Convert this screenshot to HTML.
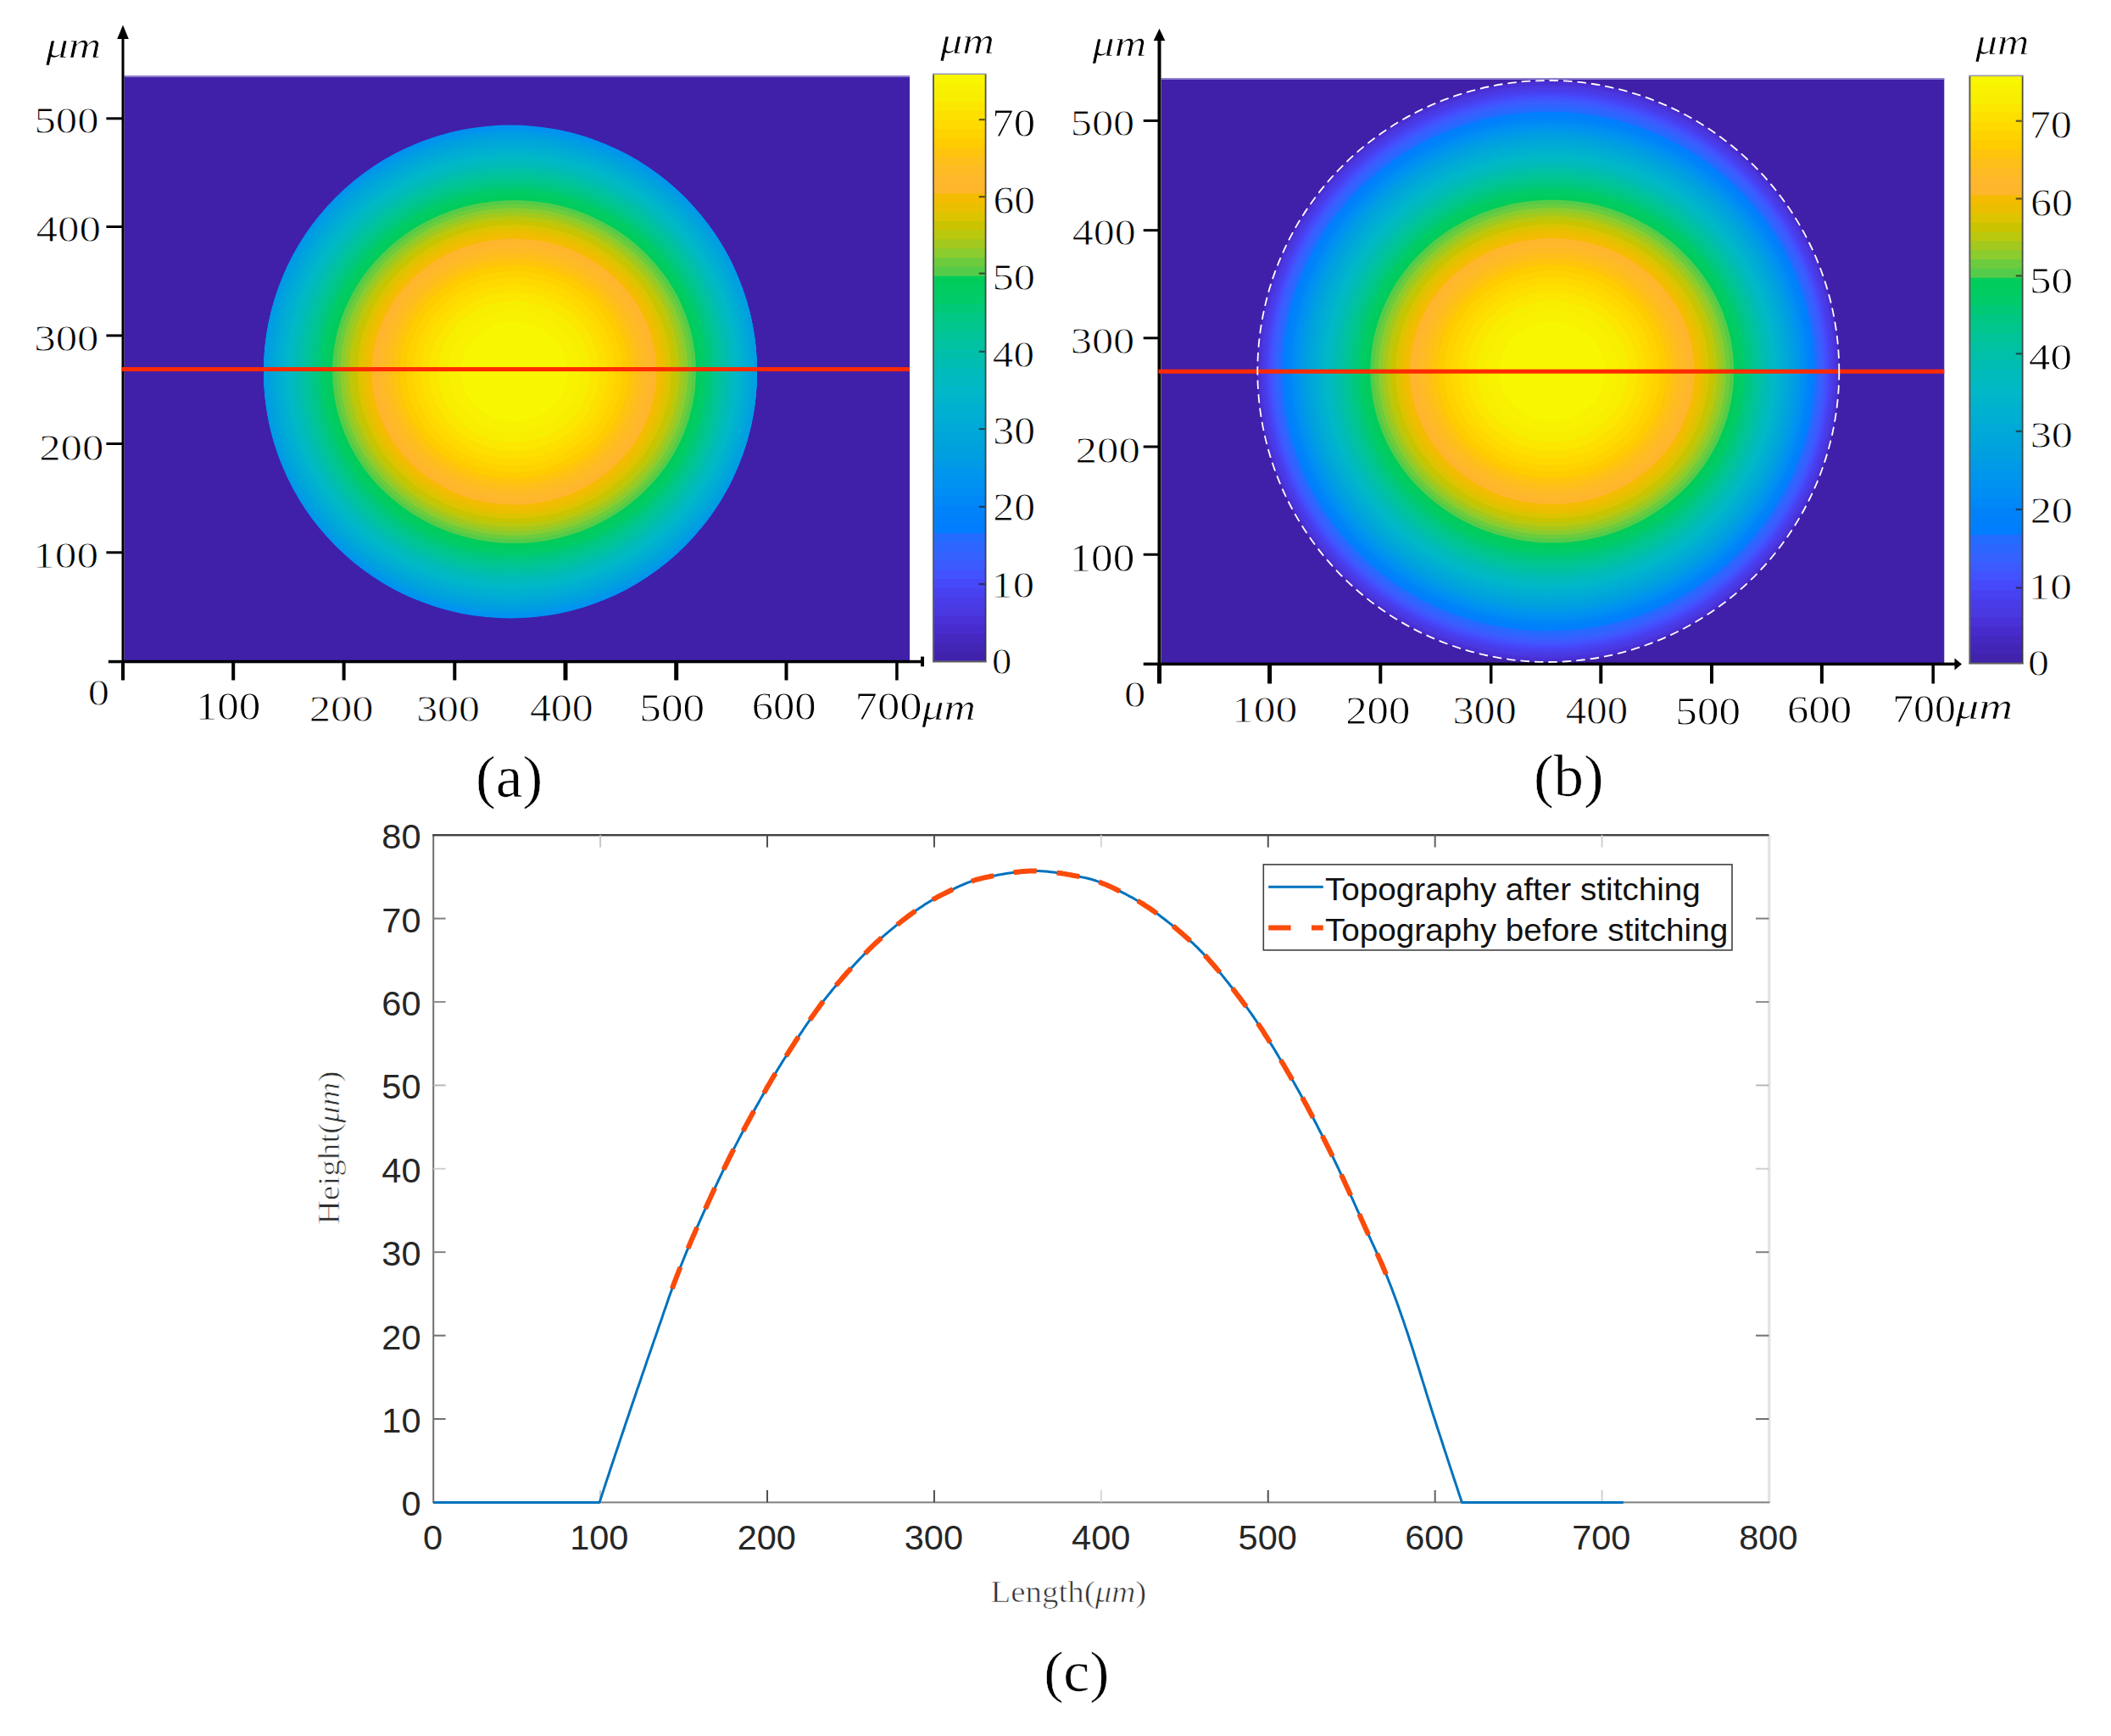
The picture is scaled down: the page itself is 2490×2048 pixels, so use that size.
<!DOCTYPE html>
<html><head><meta charset="utf-8"><title>Figure</title>
<style>html,body{margin:0;padding:0;background:#fff}svg{display:block}</style></head>
<body>
<svg width="2490" height="2048" viewBox="0 0 2490 2048">
<rect width="2490" height="2048" fill="#fff"/>
<defs>
<clipPath id="ca"><circle cx="602" cy="438.5" r="291"/></clipPath>
<clipPath id="cbb"><circle cx="1826.3" cy="438" r="343"/></clipPath>
</defs>
<rect x="146.5" y="89.6" width="926.5" height="690.4" fill="#4020A8"/>
<rect x="146.5" y="89.1" width="926.5" height="2" fill="#8E7ECE"/>
<g clip-path="url(#ca)">
<circle cx="602" cy="438.5" r="293" fill="#008EF5"/>
<ellipse cx="602.9" cy="438.5" rx="299.2" ry="290.3" fill="#0092F1"/>
<ellipse cx="603.1" cy="438.5" rx="296.1" ry="287.0" fill="#0096ED"/>
<ellipse cx="603.2" cy="438.5" rx="293.0" ry="283.7" fill="#009AE7"/>
<ellipse cx="603.3" cy="438.5" rx="289.8" ry="280.4" fill="#009FE1"/>
<ellipse cx="603.5" cy="438.5" rx="286.6" ry="276.9" fill="#00A2DE"/>
<ellipse cx="603.6" cy="438.5" rx="283.3" ry="273.5" fill="#00A6DA"/>
<ellipse cx="603.7" cy="438.5" rx="280.0" ry="270.0" fill="#00A9D7"/>
<ellipse cx="603.9" cy="438.5" rx="276.7" ry="266.5" fill="#00ADD3"/>
<ellipse cx="604.0" cy="438.5" rx="273.2" ry="262.9" fill="#00B0D0"/>
<ellipse cx="604.2" cy="438.5" rx="269.8" ry="259.3" fill="#00B4CC"/>
<ellipse cx="604.3" cy="438.5" rx="266.3" ry="255.6" fill="#00B8C8"/>
<ellipse cx="604.5" cy="438.5" rx="262.7" ry="251.9" fill="#00BAC2"/>
<ellipse cx="604.6" cy="438.5" rx="259.1" ry="248.1" fill="#00BBBB"/>
<ellipse cx="604.8" cy="438.5" rx="255.4" ry="244.2" fill="#00BDB3"/>
<ellipse cx="604.9" cy="438.5" rx="251.6" ry="240.4" fill="#00C0AA"/>
<ellipse cx="605.1" cy="438.5" rx="247.8" ry="236.4" fill="#00C2A0"/>
<ellipse cx="605.3" cy="438.5" rx="243.9" ry="232.4" fill="#00C497"/>
<ellipse cx="605.4" cy="438.5" rx="239.9" ry="228.3" fill="#00C68D"/>
<ellipse cx="605.6" cy="438.5" rx="235.9" ry="224.2" fill="#00C784"/>
<ellipse cx="605.8" cy="438.5" rx="231.8" ry="219.9" fill="#00C977"/>
<ellipse cx="606.0" cy="438.5" rx="227.6" ry="215.6" fill="#00CC69"/>
<ellipse cx="606.1" cy="438.5" rx="223.3" ry="211.3" fill="#00CC62"/>
<ellipse cx="606.3" cy="438.5" rx="218.9" ry="206.8" fill="#00CC5B"/>
<ellipse cx="606.5" cy="438.5" rx="214.4" ry="202.3" fill="#54CC4A"/>
<ellipse cx="606.5" cy="438.5" rx="209.8" ry="197.7" fill="#6CCC3E"/>
<ellipse cx="606.5" cy="438.5" rx="205.1" ry="193.1" fill="#8BCC2E"/>
<ellipse cx="606.5" cy="438.5" rx="200.2" ry="188.4" fill="#A3C81E"/>
<ellipse cx="606.5" cy="438.5" rx="195.2" ry="183.5" fill="#BAC80E"/>
<ellipse cx="606.5" cy="438.5" rx="190.1" ry="178.6" fill="#CAC400"/>
<ellipse cx="606.5" cy="438.5" rx="184.9" ry="173.4" fill="#DDC400"/>
<ellipse cx="606.5" cy="438.5" rx="179.4" ry="168.2" fill="#EABF00"/>
<ellipse cx="606.5" cy="438.5" rx="173.8" ry="162.7" fill="#F4BC00"/>
<ellipse cx="606.5" cy="438.5" rx="168.0" ry="157.1" fill="#FFB52C"/>
<ellipse cx="606.5" cy="438.5" rx="161.9" ry="151.4" fill="#FFB82C"/>
<ellipse cx="606.5" cy="438.5" rx="155.6" ry="145.5" fill="#FFBB24"/>
<ellipse cx="606.5" cy="438.5" rx="149.1" ry="139.3" fill="#FFBF1A"/>
<ellipse cx="606.5" cy="438.5" rx="142.2" ry="132.8" fill="#FFC50D"/>
<ellipse cx="606.5" cy="438.5" rx="134.9" ry="126.0" fill="#FFCC00"/>
<ellipse cx="606.5" cy="438.5" rx="127.2" ry="118.8" fill="#FFD300"/>
<ellipse cx="606.5" cy="438.5" rx="119.0" ry="111.1" fill="#FFD900"/>
<ellipse cx="606.5" cy="438.5" rx="110.1" ry="102.8" fill="#FDE000"/>
<ellipse cx="606.5" cy="438.5" rx="100.4" ry="93.7" fill="#FBE700"/>
<ellipse cx="606.5" cy="438.5" rx="89.7" ry="83.7" fill="#F8EE00"/>
<ellipse cx="606.5" cy="438.5" rx="77.5" ry="72.3" fill="#F8F200"/>
<ellipse cx="606.5" cy="438.5" rx="62.9" ry="58.6" fill="#F8F600"/>
</g>
<rect x="143.5" y="44" width="3" height="738" fill="#000"/>
<path d="M145 29.4 L151.8 46 L138.2 46 Z" fill="#000"/>
<rect x="143.6" y="433.1" width="929.4" height="5" fill="#FF2A00"/>
<rect x="127.8" y="778.8" width="962.2" height="3.5" fill="#000"/>
<rect x="1086" y="774.6" width="4" height="11.7" fill="#000"/>
<rect x="125.4" y="138.3" width="19" height="3" fill="#000"/>
<rect x="125.4" y="266.0" width="19" height="3" fill="#000"/>
<rect x="125.4" y="394.4" width="19" height="3" fill="#000"/>
<rect x="125.4" y="522.0" width="19" height="3" fill="#000"/>
<rect x="125.4" y="650.3" width="19" height="3" fill="#000"/>
<rect x="143.0" y="780" width="4" height="22.5" fill="#000"/>
<rect x="273.2" y="780" width="4" height="22.5" fill="#000"/>
<rect x="403.6" y="780" width="4" height="22.5" fill="#000"/>
<rect x="534.3" y="780" width="4" height="22.5" fill="#000"/>
<rect x="664.5" y="780" width="5" height="22.5" fill="#000"/>
<rect x="795.2" y="780" width="5" height="22.5" fill="#000"/>
<rect x="925.5" y="780" width="4" height="22.5" fill="#000"/>
<rect x="1056.15" y="780" width="3.5" height="22.5" fill="#000"/>
<text x="40.46" y="156.65" font-family='"Liberation Serif", serif' font-size="44.74" textLength="76.07" lengthAdjust="spacingAndGlyphs" fill="#000"  stroke="#fff" stroke-width="0.8" paint-order="fill stroke">500</text>
<text x="42.48" y="285.06" font-family='"Liberation Serif", serif' font-size="44.44" textLength="76.46" lengthAdjust="spacingAndGlyphs" fill="#000"  stroke="#fff" stroke-width="0.8" paint-order="fill stroke">400</text>
<text x="40.31" y="413.56" font-family='"Liberation Serif", serif' font-size="44.44" textLength="76.22" lengthAdjust="spacingAndGlyphs" fill="#000"  stroke="#fff" stroke-width="0.8" paint-order="fill stroke">300</text>
<text x="46.21" y="543.05" font-family='"Liberation Serif", serif' font-size="45.19" textLength="76.22" lengthAdjust="spacingAndGlyphs" fill="#000"  stroke="#fff" stroke-width="0.8" paint-order="fill stroke">200</text>
<text x="39.14" y="669.86" font-family='"Liberation Serif", serif' font-size="44.30" textLength="76.91" lengthAdjust="spacingAndGlyphs" fill="#000"  stroke="#fff" stroke-width="0.8" paint-order="fill stroke">100</text>
<text x="103.68" y="831.56" font-family='"Liberation Serif", serif' font-size="43.70" textLength="25.24" lengthAdjust="spacingAndGlyphs" fill="#000"  stroke="#fff" stroke-width="0.8" paint-order="fill stroke">0</text>
<text x="230.65" y="849.04" font-family='"Liberation Serif", serif' font-size="45.78" textLength="76.80" lengthAdjust="spacingAndGlyphs" fill="#000"  stroke="#fff" stroke-width="0.8" paint-order="fill stroke">100</text>
<text x="364.73" y="851.05" font-family='"Liberation Serif", serif' font-size="45.19" textLength="75.80" lengthAdjust="spacingAndGlyphs" fill="#000"  stroke="#fff" stroke-width="0.8" paint-order="fill stroke">200</text>
<text x="491.16" y="851.05" font-family='"Liberation Serif", serif' font-size="45.19" textLength="74.73" lengthAdjust="spacingAndGlyphs" fill="#000"  stroke="#fff" stroke-width="0.8" paint-order="fill stroke">300</text>
<text x="624.90" y="850.54" font-family='"Liberation Serif", serif' font-size="45.93" textLength="74.90" lengthAdjust="spacingAndGlyphs" fill="#000"  stroke="#fff" stroke-width="0.8" paint-order="fill stroke">400</text>
<text x="754.33" y="850.54" font-family='"Liberation Serif", serif' font-size="45.93" textLength="76.82" lengthAdjust="spacingAndGlyphs" fill="#000"  stroke="#fff" stroke-width="0.8" paint-order="fill stroke">500</text>
<text x="886.67" y="849.04" font-family='"Liberation Serif", serif' font-size="45.78" textLength="76.06" lengthAdjust="spacingAndGlyphs" fill="#000"  stroke="#fff" stroke-width="0.8" paint-order="fill stroke">600</text>
<text x="1008.58" y="848.84" font-family='"Liberation Serif", serif' font-size="45.93" textLength="79.03" lengthAdjust="spacingAndGlyphs" fill="#000"  stroke="#fff" stroke-width="0.8" paint-order="fill stroke">700</text>
<text x="1170.30" y="161.04" font-family='"Liberation Serif", serif' font-size="45.63" textLength="50.73" lengthAdjust="spacingAndGlyphs" fill="#000"  stroke="#fff" stroke-width="0.8" paint-order="fill stroke">70</text>
<text x="1171.63" y="251.54" font-family='"Liberation Serif", serif' font-size="46.07" textLength="49.35" lengthAdjust="spacingAndGlyphs" fill="#000"  stroke="#fff" stroke-width="0.8" paint-order="fill stroke">60</text>
<text x="1170.57" y="341.55" font-family='"Liberation Serif", serif' font-size="44.59" textLength="50.44" lengthAdjust="spacingAndGlyphs" fill="#000"  stroke="#fff" stroke-width="0.8" paint-order="fill stroke">50</text>
<text x="1170.82" y="432.75" font-family='"Liberation Serif", serif' font-size="44.74" textLength="49.15" lengthAdjust="spacingAndGlyphs" fill="#000"  stroke="#fff" stroke-width="0.8" paint-order="fill stroke">40</text>
<text x="1171.37" y="523.54" font-family='"Liberation Serif", serif' font-size="45.93" textLength="49.62" lengthAdjust="spacingAndGlyphs" fill="#000"  stroke="#fff" stroke-width="0.8" paint-order="fill stroke">30</text>
<text x="1171.37" y="613.54" font-family='"Liberation Serif", serif' font-size="45.93" textLength="49.62" lengthAdjust="spacingAndGlyphs" fill="#000"  stroke="#fff" stroke-width="0.8" paint-order="fill stroke">20</text>
<text x="1169.29" y="704.56" font-family='"Liberation Serif", serif' font-size="44.44" textLength="50.74" lengthAdjust="spacingAndGlyphs" fill="#000"  stroke="#fff" stroke-width="0.8" paint-order="fill stroke">10</text>
<text x="1169.93" y="795.06" font-family='"Liberation Serif", serif' font-size="44.44" textLength="23.33" lengthAdjust="spacingAndGlyphs" fill="#000"  stroke="#fff" stroke-width="0.8" paint-order="fill stroke">0</text>
<text x="54.00" y="67.50" font-family='"Liberation Serif", serif' font-size="44.57" textLength="65.36" lengthAdjust="spacingAndGlyphs" fill="#000" font-style="italic"  stroke="#fff" stroke-width="0.7" paint-order="fill stroke">μm</text>
<text x="1087.50" y="849.00" font-family='"Liberation Serif", serif' font-size="44.57" textLength="63.39" lengthAdjust="spacingAndGlyphs" fill="#000" font-style="italic"  stroke="#fff" stroke-width="0.7" paint-order="fill stroke">μm</text>
<text x="1109.00" y="63.10" font-family='"Liberation Serif", serif' font-size="44.57" textLength="64.01" lengthAdjust="spacingAndGlyphs" fill="#000" font-style="italic"  stroke="#fff" stroke-width="0.7" paint-order="fill stroke">μm</text>
<rect x="1101" y="87.50" width="61.7" height="693.00" fill="#F8F600"/>
<rect x="1101" y="98.33" width="61.7" height="682.17" fill="#F8F200"/>
<rect x="1101" y="109.16" width="61.7" height="671.34" fill="#F8EE00"/>
<rect x="1101" y="119.98" width="61.7" height="660.52" fill="#FBE700"/>
<rect x="1101" y="130.81" width="61.7" height="649.69" fill="#FDE000"/>
<rect x="1101" y="141.64" width="61.7" height="638.86" fill="#FFD900"/>
<rect x="1101" y="152.47" width="61.7" height="628.03" fill="#FFD300"/>
<rect x="1101" y="163.30" width="61.7" height="617.20" fill="#FFCC00"/>
<rect x="1101" y="174.12" width="61.7" height="606.38" fill="#FFC50D"/>
<rect x="1101" y="184.95" width="61.7" height="595.55" fill="#FFBF1A"/>
<rect x="1101" y="195.78" width="61.7" height="584.72" fill="#FFBB24"/>
<rect x="1101" y="206.61" width="61.7" height="573.89" fill="#FFB82C"/>
<rect x="1101" y="217.44" width="61.7" height="563.06" fill="#FFB52C"/>
<rect x="1101" y="228.27" width="61.7" height="552.23" fill="#F4BC00"/>
<rect x="1101" y="239.09" width="61.7" height="541.41" fill="#EABF00"/>
<rect x="1101" y="249.92" width="61.7" height="530.58" fill="#DDC400"/>
<rect x="1101" y="260.75" width="61.7" height="519.75" fill="#CAC400"/>
<rect x="1101" y="271.58" width="61.7" height="508.92" fill="#BAC80E"/>
<rect x="1101" y="282.41" width="61.7" height="498.09" fill="#A3C81E"/>
<rect x="1101" y="293.23" width="61.7" height="487.27" fill="#8BCC2E"/>
<rect x="1101" y="304.06" width="61.7" height="476.44" fill="#6CCC3E"/>
<rect x="1101" y="314.89" width="61.7" height="465.61" fill="#54CC4A"/>
<rect x="1101" y="325.72" width="61.7" height="454.78" fill="#00CC5B"/>
<rect x="1101" y="336.55" width="61.7" height="443.95" fill="#00CC62"/>
<rect x="1101" y="347.38" width="61.7" height="433.12" fill="#00CC69"/>
<rect x="1101" y="358.20" width="61.7" height="422.30" fill="#00C977"/>
<rect x="1101" y="369.03" width="61.7" height="411.47" fill="#00C784"/>
<rect x="1101" y="379.86" width="61.7" height="400.64" fill="#00C68D"/>
<rect x="1101" y="390.69" width="61.7" height="389.81" fill="#00C497"/>
<rect x="1101" y="401.52" width="61.7" height="378.98" fill="#00C2A0"/>
<rect x="1101" y="412.34" width="61.7" height="368.16" fill="#00C0AA"/>
<rect x="1101" y="423.17" width="61.7" height="357.33" fill="#00BDB3"/>
<rect x="1101" y="434.00" width="61.7" height="346.50" fill="#00BBBB"/>
<rect x="1101" y="444.83" width="61.7" height="335.67" fill="#00BAC2"/>
<rect x="1101" y="455.66" width="61.7" height="324.84" fill="#00B8C8"/>
<rect x="1101" y="466.48" width="61.7" height="314.02" fill="#00B4CC"/>
<rect x="1101" y="477.31" width="61.7" height="303.19" fill="#00B0D0"/>
<rect x="1101" y="488.14" width="61.7" height="292.36" fill="#00ADD3"/>
<rect x="1101" y="498.97" width="61.7" height="281.53" fill="#00A9D7"/>
<rect x="1101" y="509.80" width="61.7" height="270.70" fill="#00A6DA"/>
<rect x="1101" y="520.62" width="61.7" height="259.88" fill="#00A2DE"/>
<rect x="1101" y="531.45" width="61.7" height="249.05" fill="#009FE1"/>
<rect x="1101" y="542.28" width="61.7" height="238.22" fill="#009AE7"/>
<rect x="1101" y="553.11" width="61.7" height="227.39" fill="#0096ED"/>
<rect x="1101" y="563.94" width="61.7" height="216.56" fill="#0092F1"/>
<rect x="1101" y="574.77" width="61.7" height="205.73" fill="#008EF5"/>
<rect x="1101" y="585.59" width="61.7" height="194.91" fill="#0088F7"/>
<rect x="1101" y="596.42" width="61.7" height="184.08" fill="#0083F9"/>
<rect x="1101" y="607.25" width="61.7" height="173.25" fill="#0081FB"/>
<rect x="1101" y="618.08" width="61.7" height="162.42" fill="#007EFE"/>
<rect x="1101" y="628.91" width="61.7" height="151.59" fill="#246CFF"/>
<rect x="1101" y="639.73" width="61.7" height="140.77" fill="#2C66FF"/>
<rect x="1101" y="650.56" width="61.7" height="129.94" fill="#3562FF"/>
<rect x="1101" y="661.39" width="61.7" height="119.11" fill="#3C5BFF"/>
<rect x="1101" y="672.22" width="61.7" height="108.28" fill="#4252FF"/>
<rect x="1101" y="683.05" width="61.7" height="97.45" fill="#4649F9"/>
<rect x="1101" y="693.88" width="61.7" height="86.62" fill="#4841F1"/>
<rect x="1101" y="704.70" width="61.7" height="75.80" fill="#493CE8"/>
<rect x="1101" y="715.53" width="61.7" height="64.97" fill="#4A38E0"/>
<rect x="1101" y="726.36" width="61.7" height="54.14" fill="#4931D7"/>
<rect x="1101" y="737.19" width="61.7" height="43.31" fill="#482BCD"/>
<rect x="1101" y="748.02" width="61.7" height="32.48" fill="#4528C0"/>
<rect x="1101" y="758.84" width="61.7" height="21.66" fill="#4325B5"/>
<rect x="1101" y="769.67" width="61.7" height="10.83" fill="#4122AC"/>
<rect x="1100" y="87.5" width="2" height="693.0" fill="#606060"/>
<rect x="1161.7" y="87.5" width="1.8" height="693.0" fill="#383838" opacity="0.85"/>
<rect x="1100" y="779.5" width="63.700000000000045" height="2" fill="#606060"/>
<rect x="1100" y="86.5" width="63.700000000000045" height="1.6" fill="#9A9AB0"/>
<rect x="1154.7" y="140" width="7" height="2.2" fill="#222" opacity="0.7"/>
<rect x="1154.7" y="231" width="7" height="2.2" fill="#222" opacity="0.7"/>
<rect x="1154.7" y="321.5" width="7" height="2.2" fill="#222" opacity="0.7"/>
<rect x="1154.7" y="413.7" width="7" height="2.2" fill="#222" opacity="0.7"/>
<rect x="1154.7" y="505" width="7" height="2.2" fill="#222" opacity="0.7"/>
<rect x="1154.7" y="596.7" width="7" height="2.2" fill="#222" opacity="0.7"/>
<rect x="1154.7" y="688" width="7" height="2.2" fill="#222" opacity="0.7"/>
<text x="561.09" y="940.15" font-family='"Liberation Serif", serif' font-size="70.00" textLength="79.11" lengthAdjust="spacingAndGlyphs" fill="#000"  stroke="#fff" stroke-width="0.6" paint-order="fill stroke">(a)</text>
<rect x="1369.8" y="92.5" width="923.5000000000002" height="690.5" fill="#4020A8"/>
<rect x="1369.8" y="92.0" width="923.5000000000002" height="2" fill="#8E7ECE"/>
<g clip-path="url(#cbb)">
<circle cx="1826.3" cy="438" r="345" fill="#4528C0"/>
<ellipse cx="1826.3" cy="438" rx="344.0" ry="344.0" fill="#482BCD"/>
<ellipse cx="1826.3" cy="438" rx="341.4" ry="341.0" fill="#4931D7"/>
<ellipse cx="1826.3" cy="438" rx="338.8" ry="337.6" fill="#4A38E0"/>
<ellipse cx="1826.4" cy="438" rx="336.2" ry="334.2" fill="#493CE8"/>
<ellipse cx="1826.4" cy="438" rx="333.6" ry="330.8" fill="#4841F1"/>
<ellipse cx="1826.4" cy="438" rx="330.9" ry="327.4" fill="#4649F9"/>
<ellipse cx="1826.5" cy="438" rx="328.2" ry="324.0" fill="#4252FF"/>
<ellipse cx="1826.5" cy="438" rx="325.4" ry="320.5" fill="#3C5BFF"/>
<ellipse cx="1826.5" cy="438" rx="322.6" ry="317.0" fill="#3562FF"/>
<ellipse cx="1826.5" cy="438" rx="319.8" ry="313.4" fill="#2C66FF"/>
<ellipse cx="1826.6" cy="438" rx="317.0" ry="309.9" fill="#246CFF"/>
<ellipse cx="1826.6" cy="438" rx="314.1" ry="306.3" fill="#007EFE"/>
<ellipse cx="1826.7" cy="438" rx="311.2" ry="303.2" fill="#0081FB"/>
<ellipse cx="1826.8" cy="438" rx="308.3" ry="300.0" fill="#0083F9"/>
<ellipse cx="1827.0" cy="438" rx="305.3" ry="296.8" fill="#0088F7"/>
<ellipse cx="1827.1" cy="438" rx="302.3" ry="293.6" fill="#008EF5"/>
<ellipse cx="1827.2" cy="438" rx="299.2" ry="290.3" fill="#0092F1"/>
<ellipse cx="1827.4" cy="438" rx="296.1" ry="287.0" fill="#0096ED"/>
<ellipse cx="1827.5" cy="438" rx="293.0" ry="283.7" fill="#009AE7"/>
<ellipse cx="1827.6" cy="438" rx="289.8" ry="280.4" fill="#009FE1"/>
<ellipse cx="1827.8" cy="438" rx="286.6" ry="276.9" fill="#00A2DE"/>
<ellipse cx="1827.9" cy="438" rx="283.3" ry="273.5" fill="#00A6DA"/>
<ellipse cx="1828.0" cy="438" rx="280.0" ry="270.0" fill="#00A9D7"/>
<ellipse cx="1828.2" cy="438" rx="276.7" ry="266.5" fill="#00ADD3"/>
<ellipse cx="1828.3" cy="438" rx="273.2" ry="262.9" fill="#00B0D0"/>
<ellipse cx="1828.5" cy="438" rx="269.8" ry="259.3" fill="#00B4CC"/>
<ellipse cx="1828.6" cy="438" rx="266.3" ry="255.6" fill="#00B8C8"/>
<ellipse cx="1828.8" cy="438" rx="262.7" ry="251.9" fill="#00BAC2"/>
<ellipse cx="1828.9" cy="438" rx="259.1" ry="248.1" fill="#00BBBB"/>
<ellipse cx="1829.1" cy="438" rx="255.4" ry="244.2" fill="#00BDB3"/>
<ellipse cx="1829.2" cy="438" rx="251.6" ry="240.4" fill="#00C0AA"/>
<ellipse cx="1829.4" cy="438" rx="247.8" ry="236.4" fill="#00C2A0"/>
<ellipse cx="1829.6" cy="438" rx="243.9" ry="232.4" fill="#00C497"/>
<ellipse cx="1829.7" cy="438" rx="239.9" ry="228.3" fill="#00C68D"/>
<ellipse cx="1829.9" cy="438" rx="235.9" ry="224.2" fill="#00C784"/>
<ellipse cx="1830.1" cy="438" rx="231.8" ry="219.9" fill="#00C977"/>
<ellipse cx="1830.3" cy="438" rx="227.6" ry="215.6" fill="#00CC69"/>
<ellipse cx="1830.4" cy="438" rx="223.3" ry="211.3" fill="#00CC62"/>
<ellipse cx="1830.6" cy="438" rx="218.9" ry="206.8" fill="#00CC5B"/>
<ellipse cx="1830.8" cy="438" rx="214.4" ry="202.3" fill="#54CC4A"/>
<ellipse cx="1830.8" cy="438" rx="209.8" ry="197.7" fill="#6CCC3E"/>
<ellipse cx="1830.8" cy="438" rx="205.1" ry="193.1" fill="#8BCC2E"/>
<ellipse cx="1830.8" cy="438" rx="200.2" ry="188.4" fill="#A3C81E"/>
<ellipse cx="1830.8" cy="438" rx="195.2" ry="183.5" fill="#BAC80E"/>
<ellipse cx="1830.8" cy="438" rx="190.1" ry="178.6" fill="#CAC400"/>
<ellipse cx="1830.8" cy="438" rx="184.9" ry="173.4" fill="#DDC400"/>
<ellipse cx="1830.8" cy="438" rx="179.4" ry="168.2" fill="#EABF00"/>
<ellipse cx="1830.8" cy="438" rx="173.8" ry="162.7" fill="#F4BC00"/>
<ellipse cx="1830.8" cy="438" rx="168.0" ry="157.1" fill="#FFB52C"/>
<ellipse cx="1830.8" cy="438" rx="161.9" ry="151.4" fill="#FFB82C"/>
<ellipse cx="1830.8" cy="438" rx="155.6" ry="145.5" fill="#FFBB24"/>
<ellipse cx="1830.8" cy="438" rx="149.1" ry="139.3" fill="#FFBF1A"/>
<ellipse cx="1830.8" cy="438" rx="142.2" ry="132.8" fill="#FFC50D"/>
<ellipse cx="1830.8" cy="438" rx="134.9" ry="126.0" fill="#FFCC00"/>
<ellipse cx="1830.8" cy="438" rx="127.2" ry="118.8" fill="#FFD300"/>
<ellipse cx="1830.8" cy="438" rx="119.0" ry="111.1" fill="#FFD900"/>
<ellipse cx="1830.8" cy="438" rx="110.1" ry="102.8" fill="#FDE000"/>
<ellipse cx="1830.8" cy="438" rx="100.4" ry="93.7" fill="#FBE700"/>
<ellipse cx="1830.8" cy="438" rx="89.7" ry="83.7" fill="#F8EE00"/>
<ellipse cx="1830.8" cy="438" rx="77.5" ry="72.3" fill="#F8F200"/>
<ellipse cx="1830.8" cy="438" rx="62.9" ry="58.6" fill="#F8F600"/>
</g>
<rect x="1365.5" y="45" width="4" height="740" fill="#000"/>
<path d="M1367.5 33.8 L1374.3 48 L1360.7 48 Z" fill="#000"/>
<rect x="1366.5" y="435.7" width="926.8" height="5" fill="#FF2A00"/>
<rect x="1348.7" y="781.6" width="958" height="3.6" fill="#000"/>
<circle cx="1826.3" cy="438" r="343" fill="none" stroke="#fff" stroke-width="1.8" stroke-dasharray="10.5 6"/>
<path d="M2314 783.4 L2305.5 776.4 L2305.5 790.4 Z" fill="#000"/>
<rect x="1348.7" y="140.9" width="18" height="3" fill="#000"/>
<rect x="1348.7" y="270.2" width="18" height="3" fill="#000"/>
<rect x="1348.7" y="397.3" width="18" height="3" fill="#000"/>
<rect x="1348.7" y="525.5" width="18" height="3" fill="#000"/>
<rect x="1348.7" y="652.7" width="18" height="3" fill="#000"/>
<rect x="1365.0" y="783" width="5" height="23.5" fill="#000"/>
<rect x="1495.1" y="783" width="5" height="23.5" fill="#000"/>
<rect x="1626.3" y="783" width="4" height="23.5" fill="#000"/>
<rect x="1756.95" y="783" width="3.5" height="23.5" fill="#000"/>
<rect x="1886.3" y="783" width="4" height="23.5" fill="#000"/>
<rect x="2017.0" y="783" width="4" height="23.5" fill="#000"/>
<rect x="2146.9" y="783" width="4" height="23.5" fill="#000"/>
<rect x="2278.45" y="783" width="3.5" height="23.5" fill="#000"/>
<text x="1262.78" y="160.06" font-family='"Liberation Serif", serif' font-size="44.15" textLength="75.54" lengthAdjust="spacingAndGlyphs" fill="#000"  stroke="#fff" stroke-width="0.8" paint-order="fill stroke">500</text>
<text x="1264.80" y="289.36" font-family='"Liberation Serif", serif' font-size="44.15" textLength="75.00" lengthAdjust="spacingAndGlyphs" fill="#000"  stroke="#fff" stroke-width="0.8" paint-order="fill stroke">400</text>
<text x="1262.73" y="417.06" font-family='"Liberation Serif", serif' font-size="44.15" textLength="75.58" lengthAdjust="spacingAndGlyphs" fill="#000"  stroke="#fff" stroke-width="0.8" paint-order="fill stroke">300</text>
<text x="1268.51" y="545.95" font-family='"Liberation Serif", serif' font-size="45.04" textLength="76.33" lengthAdjust="spacingAndGlyphs" fill="#000"  stroke="#fff" stroke-width="0.8" paint-order="fill stroke">200</text>
<text x="1261.44" y="674.25" font-family='"Liberation Serif", serif' font-size="45.48" textLength="76.91" lengthAdjust="spacingAndGlyphs" fill="#000"  stroke="#fff" stroke-width="0.8" paint-order="fill stroke">100</text>
<text x="1325.97" y="834.36" font-family='"Liberation Serif", serif' font-size="43.56" textLength="25.36" lengthAdjust="spacingAndGlyphs" fill="#000"  stroke="#fff" stroke-width="0.8" paint-order="fill stroke">0</text>
<text x="1452.90" y="851.96" font-family='"Liberation Serif", serif' font-size="44.30" textLength="77.56" lengthAdjust="spacingAndGlyphs" fill="#000"  stroke="#fff" stroke-width="0.8" paint-order="fill stroke">100</text>
<text x="1587.21" y="854.34" font-family='"Liberation Serif", serif' font-size="45.63" textLength="76.22" lengthAdjust="spacingAndGlyphs" fill="#000"  stroke="#fff" stroke-width="0.8" paint-order="fill stroke">200</text>
<text x="1713.54" y="854.34" font-family='"Liberation Serif", serif' font-size="45.63" textLength="75.27" lengthAdjust="spacingAndGlyphs" fill="#000"  stroke="#fff" stroke-width="0.8" paint-order="fill stroke">300</text>
<text x="1846.82" y="854.34" font-family='"Liberation Serif", serif' font-size="45.63" textLength="73.33" lengthAdjust="spacingAndGlyphs" fill="#000"  stroke="#fff" stroke-width="0.8" paint-order="fill stroke">400</text>
<text x="1976.33" y="854.64" font-family='"Liberation Serif", serif' font-size="46.37" textLength="76.71" lengthAdjust="spacingAndGlyphs" fill="#000"  stroke="#fff" stroke-width="0.8" paint-order="fill stroke">500</text>
<text x="2107.96" y="852.54" font-family='"Liberation Serif", serif' font-size="46.37" textLength="76.37" lengthAdjust="spacingAndGlyphs" fill="#000"  stroke="#fff" stroke-width="0.8" paint-order="fill stroke">600</text>
<text x="2232.16" y="851.54" font-family='"Liberation Serif", serif' font-size="46.22" textLength="74.84" lengthAdjust="spacingAndGlyphs" fill="#000"  stroke="#fff" stroke-width="0.8" paint-order="fill stroke">700</text>
<text x="2393.73" y="163.05" font-family='"Liberation Serif", serif' font-size="45.48" textLength="50.28" lengthAdjust="spacingAndGlyphs" fill="#000"  stroke="#fff" stroke-width="0.8" paint-order="fill stroke">70</text>
<text x="2395.00" y="254.65" font-family='"Liberation Serif", serif' font-size="45.48" textLength="50.00" lengthAdjust="spacingAndGlyphs" fill="#000"  stroke="#fff" stroke-width="0.8" paint-order="fill stroke">60</text>
<text x="2393.93" y="345.75" font-family='"Liberation Serif", serif' font-size="45.19" textLength="51.11" lengthAdjust="spacingAndGlyphs" fill="#000"  stroke="#fff" stroke-width="0.8" paint-order="fill stroke">50</text>
<text x="2392.98" y="436.35" font-family='"Liberation Serif", serif' font-size="45.19" textLength="51.06" lengthAdjust="spacingAndGlyphs" fill="#000"  stroke="#fff" stroke-width="0.8" paint-order="fill stroke">40</text>
<text x="2394.74" y="528.05" font-family='"Liberation Serif", serif' font-size="45.19" textLength="50.27" lengthAdjust="spacingAndGlyphs" fill="#000"  stroke="#fff" stroke-width="0.8" paint-order="fill stroke">30</text>
<text x="2394.74" y="616.55" font-family='"Liberation Serif", serif' font-size="45.19" textLength="50.27" lengthAdjust="spacingAndGlyphs" fill="#000"  stroke="#fff" stroke-width="0.8" paint-order="fill stroke">20</text>
<text x="2392.63" y="706.96" font-family='"Liberation Serif", serif' font-size="44.15" textLength="51.43" lengthAdjust="spacingAndGlyphs" fill="#000"  stroke="#fff" stroke-width="0.8" paint-order="fill stroke">10</text>
<text x="2392.00" y="797.36" font-family='"Liberation Serif", serif' font-size="44.15" textLength="25.00" lengthAdjust="spacingAndGlyphs" fill="#000"  stroke="#fff" stroke-width="0.8" paint-order="fill stroke">0</text>
<text x="1288.50" y="66.00" font-family='"Liberation Serif", serif' font-size="44.57" textLength="63.80" lengthAdjust="spacingAndGlyphs" fill="#000" font-style="italic"  stroke="#fff" stroke-width="0.7" paint-order="fill stroke">μm</text>
<text x="2306.50" y="847.70" font-family='"Liberation Serif", serif' font-size="44.57" textLength="67.74" lengthAdjust="spacingAndGlyphs" fill="#000" font-style="italic"  stroke="#fff" stroke-width="0.7" paint-order="fill stroke">μm</text>
<text x="2330.00" y="64.20" font-family='"Liberation Serif", serif' font-size="44.57" textLength="63.49" lengthAdjust="spacingAndGlyphs" fill="#000" font-style="italic"  stroke="#fff" stroke-width="0.7" paint-order="fill stroke">μm</text>
<rect x="2323.4" y="89.50" width="62.4" height="693.10" fill="#F8F600"/>
<rect x="2323.4" y="100.33" width="62.4" height="682.27" fill="#F8F200"/>
<rect x="2323.4" y="111.16" width="62.4" height="671.44" fill="#F8EE00"/>
<rect x="2323.4" y="121.99" width="62.4" height="660.61" fill="#FBE700"/>
<rect x="2323.4" y="132.82" width="62.4" height="649.78" fill="#FDE000"/>
<rect x="2323.4" y="143.65" width="62.4" height="638.95" fill="#FFD900"/>
<rect x="2323.4" y="154.48" width="62.4" height="628.12" fill="#FFD300"/>
<rect x="2323.4" y="165.31" width="62.4" height="617.29" fill="#FFCC00"/>
<rect x="2323.4" y="176.14" width="62.4" height="606.46" fill="#FFC50D"/>
<rect x="2323.4" y="186.97" width="62.4" height="595.63" fill="#FFBF1A"/>
<rect x="2323.4" y="197.80" width="62.4" height="584.80" fill="#FFBB24"/>
<rect x="2323.4" y="208.63" width="62.4" height="573.97" fill="#FFB82C"/>
<rect x="2323.4" y="219.46" width="62.4" height="563.14" fill="#FFB52C"/>
<rect x="2323.4" y="230.29" width="62.4" height="552.31" fill="#F4BC00"/>
<rect x="2323.4" y="241.12" width="62.4" height="541.48" fill="#EABF00"/>
<rect x="2323.4" y="251.95" width="62.4" height="530.65" fill="#DDC400"/>
<rect x="2323.4" y="262.77" width="62.4" height="519.83" fill="#CAC400"/>
<rect x="2323.4" y="273.60" width="62.4" height="509.00" fill="#BAC80E"/>
<rect x="2323.4" y="284.43" width="62.4" height="498.17" fill="#A3C81E"/>
<rect x="2323.4" y="295.26" width="62.4" height="487.34" fill="#8BCC2E"/>
<rect x="2323.4" y="306.09" width="62.4" height="476.51" fill="#6CCC3E"/>
<rect x="2323.4" y="316.92" width="62.4" height="465.68" fill="#54CC4A"/>
<rect x="2323.4" y="327.75" width="62.4" height="454.85" fill="#00CC5B"/>
<rect x="2323.4" y="338.58" width="62.4" height="444.02" fill="#00CC62"/>
<rect x="2323.4" y="349.41" width="62.4" height="433.19" fill="#00CC69"/>
<rect x="2323.4" y="360.24" width="62.4" height="422.36" fill="#00C977"/>
<rect x="2323.4" y="371.07" width="62.4" height="411.53" fill="#00C784"/>
<rect x="2323.4" y="381.90" width="62.4" height="400.70" fill="#00C68D"/>
<rect x="2323.4" y="392.73" width="62.4" height="389.87" fill="#00C497"/>
<rect x="2323.4" y="403.56" width="62.4" height="379.04" fill="#00C2A0"/>
<rect x="2323.4" y="414.39" width="62.4" height="368.21" fill="#00C0AA"/>
<rect x="2323.4" y="425.22" width="62.4" height="357.38" fill="#00BDB3"/>
<rect x="2323.4" y="436.05" width="62.4" height="346.55" fill="#00BBBB"/>
<rect x="2323.4" y="446.88" width="62.4" height="335.72" fill="#00BAC2"/>
<rect x="2323.4" y="457.71" width="62.4" height="324.89" fill="#00B8C8"/>
<rect x="2323.4" y="468.54" width="62.4" height="314.06" fill="#00B4CC"/>
<rect x="2323.4" y="479.37" width="62.4" height="303.23" fill="#00B0D0"/>
<rect x="2323.4" y="490.20" width="62.4" height="292.40" fill="#00ADD3"/>
<rect x="2323.4" y="501.03" width="62.4" height="281.57" fill="#00A9D7"/>
<rect x="2323.4" y="511.86" width="62.4" height="270.74" fill="#00A6DA"/>
<rect x="2323.4" y="522.69" width="62.4" height="259.91" fill="#00A2DE"/>
<rect x="2323.4" y="533.52" width="62.4" height="249.08" fill="#009FE1"/>
<rect x="2323.4" y="544.35" width="62.4" height="238.25" fill="#009AE7"/>
<rect x="2323.4" y="555.18" width="62.4" height="227.42" fill="#0096ED"/>
<rect x="2323.4" y="566.01" width="62.4" height="216.59" fill="#0092F1"/>
<rect x="2323.4" y="576.84" width="62.4" height="205.76" fill="#008EF5"/>
<rect x="2323.4" y="587.67" width="62.4" height="194.93" fill="#0088F7"/>
<rect x="2323.4" y="598.50" width="62.4" height="184.10" fill="#0083F9"/>
<rect x="2323.4" y="609.33" width="62.4" height="173.27" fill="#0081FB"/>
<rect x="2323.4" y="620.15" width="62.4" height="162.45" fill="#007EFE"/>
<rect x="2323.4" y="630.98" width="62.4" height="151.62" fill="#246CFF"/>
<rect x="2323.4" y="641.81" width="62.4" height="140.79" fill="#2C66FF"/>
<rect x="2323.4" y="652.64" width="62.4" height="129.96" fill="#3562FF"/>
<rect x="2323.4" y="663.47" width="62.4" height="119.13" fill="#3C5BFF"/>
<rect x="2323.4" y="674.30" width="62.4" height="108.30" fill="#4252FF"/>
<rect x="2323.4" y="685.13" width="62.4" height="97.47" fill="#4649F9"/>
<rect x="2323.4" y="695.96" width="62.4" height="86.64" fill="#4841F1"/>
<rect x="2323.4" y="706.79" width="62.4" height="75.81" fill="#493CE8"/>
<rect x="2323.4" y="717.62" width="62.4" height="64.98" fill="#4A38E0"/>
<rect x="2323.4" y="728.45" width="62.4" height="54.15" fill="#4931D7"/>
<rect x="2323.4" y="739.28" width="62.4" height="43.32" fill="#482BCD"/>
<rect x="2323.4" y="750.11" width="62.4" height="32.49" fill="#4528C0"/>
<rect x="2323.4" y="760.94" width="62.4" height="21.66" fill="#4325B5"/>
<rect x="2323.4" y="771.77" width="62.4" height="10.83" fill="#4122AC"/>
<rect x="2322.4" y="89.5" width="2" height="693.1" fill="#606060"/>
<rect x="2384.8" y="89.5" width="1.8" height="693.1" fill="#383838" opacity="0.85"/>
<rect x="2322.4" y="781.6" width="64.40000000000009" height="2" fill="#606060"/>
<rect x="2322.4" y="88.5" width="64.40000000000009" height="1.6" fill="#9A9AB0"/>
<rect x="2377.8" y="141.6" width="7" height="2.2" fill="#222" opacity="0.7"/>
<rect x="2377.8" y="233.3" width="7" height="2.2" fill="#222" opacity="0.7"/>
<rect x="2377.8" y="324.3" width="7" height="2.2" fill="#222" opacity="0.7"/>
<rect x="2377.8" y="416.2" width="7" height="2.2" fill="#222" opacity="0.7"/>
<rect x="2377.8" y="507.7" width="7" height="2.2" fill="#222" opacity="0.7"/>
<rect x="2377.8" y="599.9" width="7" height="2.2" fill="#222" opacity="0.7"/>
<rect x="2377.8" y="692.4" width="7" height="2.2" fill="#222" opacity="0.7"/>
<text x="1809.01" y="939.37" font-family='"Liberation Serif", serif' font-size="69.89" textLength="82.60" lengthAdjust="spacingAndGlyphs" fill="#000"  stroke="#fff" stroke-width="0.6" paint-order="fill stroke">(b)</text>
<rect x="2085.0" y="985.2" width="3.5" height="787.2" fill="#E4E4E4"/>
<rect x="510.2" y="985.2" width="2" height="787.2" fill="#707070"/>
<rect x="510.2" y="1771.4" width="1577.3" height="2" fill="#808080"/>
<rect x="510.2" y="984.0" width="1576.3" height="2.4" fill="#404040"/>
<rect x="707.1125" y="985.2" width="2" height="14.4" fill="#C8C8C8"/>
<rect x="707.1125" y="1758.0" width="2" height="14.4" fill="#C8C8C8"/>
<rect x="904.025" y="985.2" width="2" height="14.4" fill="#505050"/>
<rect x="904.025" y="1758.0" width="2" height="14.4" fill="#505050"/>
<rect x="1100.9375" y="985.2" width="2" height="14.4" fill="#505050"/>
<rect x="1100.9375" y="1758.0" width="2" height="14.4" fill="#505050"/>
<rect x="1297.85" y="985.2" width="2" height="14.4" fill="#D8D8D8"/>
<rect x="1297.85" y="1758.0" width="2" height="14.4" fill="#D8D8D8"/>
<rect x="1494.7625" y="985.2" width="2" height="14.4" fill="#505050"/>
<rect x="1494.7625" y="1758.0" width="2" height="14.4" fill="#505050"/>
<rect x="1691.675" y="985.2" width="2" height="14.4" fill="#606060"/>
<rect x="1691.675" y="1758.0" width="2" height="14.4" fill="#606060"/>
<rect x="1888.5875" y="985.2" width="2" height="14.4" fill="#D0D0D0"/>
<rect x="1888.5875" y="1758.0" width="2" height="14.4" fill="#D0D0D0"/>
<rect x="511.2" y="1673.0" width="14.4" height="2" fill="#707070"/>
<rect x="2071.0" y="1673.0" width="15.5" height="2" fill="#707070"/>
<rect x="511.2" y="1574.6000000000001" width="14.4" height="2" fill="#707070"/>
<rect x="2071.0" y="1574.6000000000001" width="15.5" height="2" fill="#707070"/>
<rect x="511.2" y="1476.2" width="14.4" height="2" fill="#808080"/>
<rect x="2071.0" y="1476.2" width="15.5" height="2" fill="#808080"/>
<rect x="511.2" y="1377.8000000000002" width="14.4" height="2" fill="#D0D0D0"/>
<rect x="2071.0" y="1377.8000000000002" width="15.5" height="2" fill="#D0D0D0"/>
<rect x="511.2" y="1279.4" width="14.4" height="2" fill="#B8B8B8"/>
<rect x="2071.0" y="1279.4" width="15.5" height="2" fill="#B8B8B8"/>
<rect x="511.2" y="1181.0" width="14.4" height="2" fill="#909090"/>
<rect x="2071.0" y="1181.0" width="15.5" height="2" fill="#909090"/>
<rect x="511.2" y="1082.6" width="14.4" height="2" fill="#808080"/>
<rect x="2071.0" y="1082.6" width="15.5" height="2" fill="#808080"/>
<path d="M511.2 1772.4 L707.1 1772.4 L708.1 1769.4 L710.1 1763.4 L712.1 1757.4 L714.0 1751.4 L716.0 1745.4 L718.0 1739.5 L719.9 1733.5 L721.9 1727.6 L723.9 1721.7 L725.8 1715.8 L727.8 1709.9 L729.8 1704.0 L731.7 1698.1 L733.7 1692.3 L735.7 1686.4 L737.6 1680.6 L739.6 1674.7 L741.6 1668.9 L743.6 1663.1 L745.5 1657.3 L747.5 1651.5 L749.5 1645.7 L751.4 1639.9 L753.4 1634.2 L755.4 1628.4 L757.3 1622.6 L759.3 1616.9 L761.3 1611.2 L763.2 1605.4 L765.2 1599.7 L767.2 1594.0 L769.2 1588.3 L771.1 1582.6 L773.1 1576.9 L775.1 1571.2 L777.0 1565.5 L779.0 1559.9 L781.0 1554.2 L782.9 1548.4 L784.9 1542.7 L786.9 1537.0 L788.8 1531.3 L790.8 1525.7 L792.8 1520.2 L794.8 1514.9 L796.7 1509.7 L798.7 1504.6 L800.7 1499.5 L802.6 1494.6 L804.6 1489.7 L806.6 1484.8 L808.5 1480.0 L810.5 1475.2 L812.5 1470.5 L814.4 1465.9 L816.4 1461.2 L818.4 1456.7 L820.4 1452.1 L822.3 1447.6 L824.3 1443.1 L826.3 1438.7 L828.2 1434.3 L830.2 1429.9 L832.2 1425.5 L834.1 1421.2 L836.1 1416.9 L838.1 1412.6 L840.0 1408.3 L842.0 1404.1 L844.0 1399.8 L846.0 1395.6 L847.9 1391.5 L849.9 1387.3 L851.9 1383.2 L853.8 1379.2 L855.8 1375.1 L857.8 1371.1 L859.7 1367.1 L861.7 1363.1 L863.7 1359.2 L865.6 1355.3 L867.6 1351.4 L869.6 1347.6 L871.5 1343.8 L873.5 1340.0 L875.5 1336.3 L877.5 1332.5 L879.4 1328.8 L881.4 1325.1 L883.4 1321.5 L885.3 1317.8 L887.3 1314.2 L889.3 1310.6 L891.2 1307.0 L893.2 1303.4 L895.2 1299.9 L897.1 1296.4 L899.1 1292.9 L901.1 1289.4 L903.1 1286.0 L905.0 1282.6 L907.0 1279.2 L909.0 1275.8 L910.9 1272.4 L912.9 1269.1 L914.9 1265.8 L916.8 1262.6 L918.8 1259.3 L920.8 1256.1 L922.7 1252.9 L924.7 1249.8 L926.7 1246.7 L928.7 1243.6 L930.6 1240.5 L932.6 1237.4 L934.6 1234.3 L936.5 1231.3 L938.5 1228.2 L940.5 1225.2 L942.4 1222.2 L944.4 1219.2 L946.4 1216.3 L948.3 1213.3 L950.3 1210.4 L952.3 1207.5 L954.3 1204.6 L956.2 1201.8 L958.2 1199.0 L960.2 1196.2 L962.1 1193.4 L964.1 1190.7 L966.1 1188.0 L968.0 1185.3 L970.0 1182.7 L972.0 1180.1 L973.9 1177.6 L975.9 1175.1 L977.9 1172.6 L979.9 1170.2 L981.8 1167.8 L983.8 1165.4 L985.8 1163.0 L987.7 1160.7 L989.7 1158.4 L991.7 1156.1 L993.6 1153.8 L995.6 1151.5 L997.6 1149.3 L999.5 1147.1 L1001.5 1144.9 L1003.5 1142.7 L1005.5 1140.5 L1007.4 1138.4 L1009.4 1136.2 L1011.4 1134.1 L1013.3 1132.1 L1015.3 1130.0 L1017.3 1128.0 L1019.2 1125.9 L1021.2 1124.0 L1023.2 1122.0 L1025.1 1120.0 L1027.1 1118.1 L1029.1 1116.2 L1031.0 1114.4 L1033.0 1112.5 L1035.0 1110.7 L1037.0 1108.9 L1038.9 1107.1 L1040.9 1105.4 L1042.9 1103.7 L1044.8 1102.0 L1046.8 1100.3 L1048.8 1098.7 L1050.7 1097.1 L1052.7 1095.4 L1054.7 1093.8 L1056.6 1092.2 L1058.6 1090.6 L1060.6 1089.1 L1062.6 1087.5 L1064.5 1086.0 L1066.5 1084.5 L1068.5 1082.9 L1070.4 1081.5 L1072.4 1080.0 L1074.4 1078.5 L1076.3 1077.1 L1078.3 1075.7 L1080.3 1074.3 L1082.2 1072.9 L1084.2 1071.5 L1086.2 1070.2 L1088.2 1068.9 L1090.1 1067.6 L1092.1 1066.3 L1094.1 1065.1 L1096.0 1063.9 L1098.0 1062.7 L1100.0 1061.5 L1101.9 1060.4 L1103.9 1059.3 L1105.9 1058.2 L1107.8 1057.2 L1109.8 1056.1 L1111.8 1055.1 L1113.8 1054.1 L1115.7 1053.2 L1117.7 1052.2 L1119.7 1051.2 L1121.6 1050.2 L1123.6 1049.3 L1125.6 1048.3 L1127.5 1047.4 L1129.5 1046.4 L1131.5 1045.5 L1133.4 1044.7 L1135.4 1043.8 L1137.4 1043.0 L1139.4 1042.2 L1141.3 1041.4 L1143.3 1040.6 L1145.3 1039.9 L1147.2 1039.2 L1149.2 1038.5 L1151.2 1037.9 L1153.1 1037.3 L1155.1 1036.8 L1157.1 1036.3 L1159.0 1035.8 L1161.0 1035.4 L1163.0 1035.0 L1164.9 1034.6 L1166.9 1034.2 L1168.9 1033.8 L1170.9 1033.4 L1172.8 1033.0 L1174.8 1032.7 L1176.8 1032.3 L1178.7 1031.9 L1180.7 1031.6 L1182.7 1031.2 L1184.6 1030.9 L1186.6 1030.6 L1188.6 1030.2 L1190.5 1029.9 L1192.5 1029.7 L1194.5 1029.4 L1196.5 1029.1 L1198.4 1028.9 L1200.4 1028.7 L1202.4 1028.5 L1204.3 1028.3 L1206.3 1028.1 L1208.3 1027.9 L1210.2 1027.8 L1212.2 1027.7 L1214.2 1027.6 L1216.1 1027.6 L1218.1 1027.5 L1220.1 1027.5 L1222.1 1027.5 L1224.0 1027.6 L1226.0 1027.6 L1228.0 1027.7 L1229.9 1027.8 L1231.9 1027.9 L1233.9 1028.1 L1235.8 1028.3 L1237.8 1028.5 L1239.8 1028.7 L1241.7 1028.9 L1243.7 1029.1 L1245.7 1029.4 L1247.7 1029.7 L1249.6 1029.9 L1251.6 1030.2 L1253.6 1030.6 L1255.5 1030.9 L1257.5 1031.2 L1259.5 1031.6 L1261.4 1031.9 L1263.4 1032.3 L1265.4 1032.7 L1267.3 1033.0 L1269.3 1033.4 L1271.3 1033.8 L1273.3 1034.2 L1275.2 1034.6 L1277.2 1035.0 L1279.2 1035.4 L1281.1 1035.8 L1283.1 1036.3 L1285.1 1036.8 L1287.0 1037.3 L1289.0 1037.9 L1291.0 1038.5 L1292.9 1039.2 L1294.9 1039.9 L1296.9 1040.6 L1298.8 1041.4 L1300.8 1042.2 L1302.8 1043.0 L1304.8 1043.8 L1306.7 1044.7 L1308.7 1045.6 L1310.7 1046.5 L1312.6 1047.4 L1314.6 1048.3 L1316.6 1049.3 L1318.5 1050.3 L1320.5 1051.2 L1322.5 1052.2 L1324.4 1053.2 L1326.4 1054.2 L1328.4 1055.2 L1330.4 1056.3 L1332.3 1057.3 L1334.3 1058.3 L1336.3 1059.4 L1338.2 1060.5 L1340.2 1061.7 L1342.2 1062.8 L1344.1 1064.0 L1346.1 1065.2 L1348.1 1066.4 L1350.0 1067.7 L1352.0 1069.0 L1354.0 1070.3 L1356.0 1071.6 L1357.9 1072.9 L1359.9 1074.3 L1361.9 1075.7 L1363.8 1077.1 L1365.8 1078.5 L1367.8 1080.0 L1369.7 1081.5 L1371.7 1083.0 L1373.7 1084.5 L1375.6 1086.0 L1377.6 1087.6 L1379.6 1089.1 L1381.6 1090.7 L1383.5 1092.3 L1385.5 1093.9 L1387.5 1095.6 L1389.4 1097.2 L1391.4 1098.9 L1393.4 1100.6 L1395.3 1102.3 L1397.3 1104.0 L1399.3 1105.8 L1401.2 1107.5 L1403.2 1109.3 L1405.2 1111.1 L1407.2 1112.9 L1409.1 1114.8 L1411.1 1116.7 L1413.1 1118.6 L1415.0 1120.6 L1417.0 1122.6 L1419.0 1124.7 L1420.9 1126.8 L1422.9 1128.9 L1424.9 1131.0 L1426.8 1133.2 L1428.8 1135.5 L1430.8 1137.7 L1432.8 1140.0 L1434.7 1142.3 L1436.7 1144.7 L1438.7 1147.0 L1440.6 1149.4 L1442.6 1151.9 L1444.6 1154.3 L1446.5 1156.8 L1448.5 1159.3 L1450.5 1161.8 L1452.4 1164.3 L1454.4 1166.8 L1456.4 1169.4 L1458.3 1172.0 L1460.3 1174.6 L1462.3 1177.2 L1464.3 1179.8 L1466.2 1182.5 L1468.2 1185.1 L1470.2 1187.8 L1472.1 1190.5 L1474.1 1193.3 L1476.1 1196.1 L1478.0 1198.9 L1480.0 1201.8 L1482.0 1204.7 L1483.9 1207.7 L1485.9 1210.6 L1487.9 1213.7 L1489.9 1216.7 L1491.8 1219.8 L1493.8 1222.9 L1495.8 1226.0 L1497.7 1229.2 L1499.7 1232.4 L1501.7 1235.6 L1503.6 1238.8 L1505.6 1242.1 L1507.6 1245.4 L1509.5 1248.7 L1511.5 1252.0 L1513.5 1255.3 L1515.5 1258.7 L1517.4 1262.0 L1519.4 1265.4 L1521.4 1268.8 L1523.3 1272.2 L1525.3 1275.6 L1527.3 1279.0 L1529.2 1282.5 L1531.2 1286.0 L1533.2 1289.6 L1535.1 1293.1 L1537.1 1296.7 L1539.1 1300.4 L1541.1 1304.0 L1543.0 1307.7 L1545.0 1311.4 L1547.0 1315.2 L1548.9 1318.9 L1550.9 1322.7 L1552.9 1326.5 L1554.8 1330.3 L1556.8 1334.2 L1558.8 1338.1 L1560.7 1342.0 L1562.7 1345.9 L1564.7 1349.8 L1566.7 1353.8 L1568.6 1357.7 L1570.6 1361.7 L1572.6 1365.8 L1574.5 1369.9 L1576.5 1374.0 L1578.5 1378.1 L1580.4 1382.3 L1582.4 1386.6 L1584.4 1390.8 L1586.3 1395.1 L1588.3 1399.4 L1590.3 1403.7 L1592.2 1408.0 L1594.2 1412.4 L1596.2 1416.7 L1598.2 1421.1 L1600.1 1425.5 L1602.1 1429.8 L1604.1 1434.2 L1606.0 1438.6 L1608.0 1443.0 L1610.0 1447.4 L1611.9 1451.7 L1613.9 1456.0 L1615.9 1460.3 L1617.8 1464.6 L1619.8 1468.9 L1621.8 1473.2 L1623.8 1477.6 L1625.7 1481.9 L1627.7 1486.4 L1629.7 1490.8 L1631.6 1495.4 L1633.6 1500.1 L1635.6 1504.8 L1637.5 1509.7 L1639.5 1514.7 L1641.5 1519.8 L1643.4 1525.0 L1645.4 1530.3 L1647.4 1535.7 L1649.4 1541.2 L1651.3 1546.8 L1653.3 1552.5 L1655.3 1558.1 L1657.2 1563.9 L1659.2 1569.7 L1661.2 1575.7 L1663.1 1581.7 L1665.1 1587.8 L1667.1 1594.0 L1669.0 1600.3 L1671.0 1606.5 L1673.0 1612.9 L1675.0 1619.2 L1676.9 1625.6 L1678.9 1631.9 L1680.9 1638.3 L1682.8 1644.6 L1684.8 1650.9 L1686.8 1657.2 L1688.7 1663.4 L1690.7 1669.6 L1692.7 1675.7 L1694.6 1681.8 L1696.6 1687.9 L1698.6 1693.9 L1700.6 1700.0 L1702.5 1706.0 L1704.5 1712.1 L1706.5 1718.1 L1708.4 1724.1 L1710.4 1730.1 L1712.4 1736.1 L1714.3 1742.1 L1716.3 1748.0 L1718.3 1754.0 L1720.2 1759.9 L1722.2 1765.9 L1724.2 1771.8 L1724.4 1772.4 L1914.8 1772.4" fill="none" stroke="#0072BD" stroke-width="3" stroke-linejoin="round"/>
<path d="M792.8 1520.2 L794.8 1514.9 L796.7 1509.7 L798.7 1504.6 L800.7 1499.5 L802.6 1494.6 L804.6 1489.7 L806.6 1484.8 L808.5 1480.0 L810.5 1475.2 L812.5 1470.5 L814.4 1465.9 L816.4 1461.2 L818.4 1456.7 L820.4 1452.1 L822.3 1447.6 L824.3 1443.1 L826.3 1438.7 L828.2 1434.3 L830.2 1429.9 L832.2 1425.5 L834.1 1421.2 L836.1 1416.9 L838.1 1412.6 L840.0 1408.3 L842.0 1404.1 L844.0 1399.8 L846.0 1395.6 L847.9 1391.5 L849.9 1387.3 L851.9 1383.2 L853.8 1379.2 L855.8 1375.1 L857.8 1371.1 L859.7 1367.1 L861.7 1363.1 L863.7 1359.2 L865.6 1355.3 L867.6 1351.4 L869.6 1347.6 L871.5 1343.8 L873.5 1340.0 L875.5 1336.3 L877.5 1332.5 L879.4 1328.8 L881.4 1325.1 L883.4 1321.5 L885.3 1317.8 L887.3 1314.2 L889.3 1310.6 L891.2 1307.0 L893.2 1303.4 L895.2 1299.9 L897.1 1296.4 L899.1 1292.9 L901.1 1289.4 L903.1 1286.0 L905.0 1282.6 L907.0 1279.2 L909.0 1275.8 L910.9 1272.4 L912.9 1269.1 L914.9 1265.8 L916.8 1262.6 L918.8 1259.3 L920.8 1256.1 L922.7 1252.9 L924.7 1249.8 L926.7 1246.7 L928.7 1243.6 L930.6 1240.5 L932.6 1237.4 L934.6 1234.3 L936.5 1231.3 L938.5 1228.2 L940.5 1225.2 L942.4 1222.2 L944.4 1219.2 L946.4 1216.3 L948.3 1213.3 L950.3 1210.4 L952.3 1207.5 L954.3 1204.6 L956.2 1201.8 L958.2 1199.0 L960.2 1196.2 L962.1 1193.4 L964.1 1190.7 L966.1 1188.0 L968.0 1185.3 L970.0 1182.7 L972.0 1180.1 L973.9 1177.6 L975.9 1175.1 L977.9 1172.6 L979.9 1170.2 L981.8 1167.8 L983.8 1165.4 L985.8 1163.0 L987.7 1160.7 L989.7 1158.4 L991.7 1156.1 L993.6 1153.8 L995.6 1151.5 L997.6 1149.3 L999.5 1147.1 L1001.5 1144.9 L1003.5 1142.7 L1005.5 1140.5 L1007.4 1138.4 L1009.4 1136.2 L1011.4 1134.1 L1013.3 1132.1 L1015.3 1130.0 L1017.3 1128.0 L1019.2 1125.9 L1021.2 1124.0 L1023.2 1122.0 L1025.1 1120.0 L1027.1 1118.1 L1029.1 1116.2 L1031.0 1114.4 L1033.0 1112.5 L1035.0 1110.7 L1037.0 1108.9 L1038.9 1107.1 L1040.9 1105.4 L1042.9 1103.7 L1044.8 1102.0 L1046.8 1100.3 L1048.8 1098.7 L1050.7 1097.1 L1052.7 1095.4 L1054.7 1093.8 L1056.6 1092.2 L1058.6 1090.6 L1060.6 1089.1 L1062.6 1087.5 L1064.5 1086.0 L1066.5 1084.5 L1068.5 1082.9 L1070.4 1081.5 L1072.4 1080.0 L1074.4 1078.5 L1076.3 1077.1 L1078.3 1075.7 L1080.3 1074.3 L1082.2 1072.9 L1084.2 1071.5 L1086.2 1070.2 L1088.2 1068.9 L1090.1 1067.6 L1092.1 1066.3 L1094.1 1065.1 L1096.0 1063.9 L1098.0 1062.7 L1100.0 1061.5 L1101.9 1060.4 L1103.9 1059.3 L1105.9 1058.2 L1107.8 1057.2 L1109.8 1056.1 L1111.8 1055.1 L1113.8 1054.1 L1115.7 1053.2 L1117.7 1052.2 L1119.7 1051.2 L1121.6 1050.2 L1123.6 1049.3 L1125.6 1048.3 L1127.5 1047.4 L1129.5 1046.4 L1131.5 1045.5 L1133.4 1044.7 L1135.4 1043.8 L1137.4 1043.0 L1139.4 1042.2 L1141.3 1041.4 L1143.3 1040.6 L1145.3 1039.9 L1147.2 1039.2 L1149.2 1038.5 L1151.2 1037.9 L1153.1 1037.3 L1155.1 1036.8 L1157.1 1036.3 L1159.0 1035.8 L1161.0 1035.4 L1163.0 1035.0 L1164.9 1034.6 L1166.9 1034.2 L1168.9 1033.8 L1170.9 1033.4 L1172.8 1033.0 L1174.8 1032.7 L1176.8 1032.3 L1178.7 1031.9 L1180.7 1031.6 L1182.7 1031.2 L1184.6 1030.9 L1186.6 1030.6 L1188.6 1030.2 L1190.5 1029.9 L1192.5 1029.7 L1194.5 1029.4 L1196.5 1029.1 L1198.4 1028.9 L1200.4 1028.7 L1202.4 1028.5 L1204.3 1028.3 L1206.3 1028.1 L1208.3 1027.9 L1210.2 1027.8 L1212.2 1027.7 L1214.2 1027.6 L1216.1 1027.6 L1218.1 1027.5 L1220.1 1027.5 L1222.1 1027.5 L1224.0 1027.6 L1226.0 1027.6 L1228.0 1027.7 L1229.9 1027.8 L1231.9 1027.9 L1233.9 1028.1 L1235.8 1028.3 L1237.8 1028.5 L1239.8 1028.7 L1241.7 1028.9 L1243.7 1029.1 L1245.7 1029.4 L1247.7 1029.7 L1249.6 1029.9 L1251.6 1030.2 L1253.6 1030.6 L1255.5 1030.9 L1257.5 1031.2 L1259.5 1031.6 L1261.4 1031.9 L1263.4 1032.3 L1265.4 1032.7 L1267.3 1033.0 L1269.3 1033.4 L1271.3 1033.8 L1273.3 1034.2 L1275.2 1034.6 L1277.2 1035.0 L1279.2 1035.4 L1281.1 1035.8 L1283.1 1036.3 L1285.1 1036.8 L1287.0 1037.3 L1289.0 1037.9 L1291.0 1038.5 L1292.9 1039.2 L1294.9 1039.9 L1296.9 1040.6 L1298.8 1041.4 L1300.8 1042.2 L1302.8 1043.0 L1304.8 1043.8 L1306.7 1044.7 L1308.7 1045.6 L1310.7 1046.5 L1312.6 1047.4 L1314.6 1048.3 L1316.6 1049.3 L1318.5 1050.3 L1320.5 1051.2 L1322.5 1052.2 L1324.4 1053.2 L1326.4 1054.2 L1328.4 1055.2 L1330.4 1056.3 L1332.3 1057.3 L1334.3 1058.3 L1336.3 1059.4 L1338.2 1060.5 L1340.2 1061.7 L1342.2 1062.8 L1344.1 1064.0 L1346.1 1065.2 L1348.1 1066.4 L1350.0 1067.7 L1352.0 1069.0 L1354.0 1070.3 L1356.0 1071.6 L1357.9 1072.9 L1359.9 1074.3 L1361.9 1075.7 L1363.8 1077.1 L1365.8 1078.5 L1367.8 1080.0 L1369.7 1081.5 L1371.7 1083.0 L1373.7 1084.5 L1375.6 1086.0 L1377.6 1087.6 L1379.6 1089.1 L1381.6 1090.7 L1383.5 1092.3 L1385.5 1093.9 L1387.5 1095.6 L1389.4 1097.2 L1391.4 1098.9 L1393.4 1100.6 L1395.3 1102.3 L1397.3 1104.0 L1399.3 1105.8 L1401.2 1107.5 L1403.2 1109.3 L1405.2 1111.1 L1407.2 1112.9 L1409.1 1114.8 L1411.1 1116.7 L1413.1 1118.6 L1415.0 1120.6 L1417.0 1122.6 L1419.0 1124.7 L1420.9 1126.8 L1422.9 1128.9 L1424.9 1131.0 L1426.8 1133.2 L1428.8 1135.5 L1430.8 1137.7 L1432.8 1140.0 L1434.7 1142.3 L1436.7 1144.7 L1438.7 1147.0 L1440.6 1149.4 L1442.6 1151.9 L1444.6 1154.3 L1446.5 1156.8 L1448.5 1159.3 L1450.5 1161.8 L1452.4 1164.3 L1454.4 1166.8 L1456.4 1169.4 L1458.3 1172.0 L1460.3 1174.6 L1462.3 1177.2 L1464.3 1179.8 L1466.2 1182.5 L1468.2 1185.1 L1470.2 1187.8 L1472.1 1190.5 L1474.1 1193.3 L1476.1 1196.1 L1478.0 1198.9 L1480.0 1201.8 L1482.0 1204.7 L1483.9 1207.7 L1485.9 1210.6 L1487.9 1213.7 L1489.9 1216.7 L1491.8 1219.8 L1493.8 1222.9 L1495.8 1226.0 L1497.7 1229.2 L1499.7 1232.4 L1501.7 1235.6 L1503.6 1238.8 L1505.6 1242.1 L1507.6 1245.4 L1509.5 1248.7 L1511.5 1252.0 L1513.5 1255.3 L1515.5 1258.7 L1517.4 1262.0 L1519.4 1265.4 L1521.4 1268.8 L1523.3 1272.2 L1525.3 1275.6 L1527.3 1279.0 L1529.2 1282.5 L1531.2 1286.0 L1533.2 1289.6 L1535.1 1293.1 L1537.1 1296.7 L1539.1 1300.4 L1541.1 1304.0 L1543.0 1307.7 L1545.0 1311.4 L1547.0 1315.2 L1548.9 1318.9 L1550.9 1322.7 L1552.9 1326.5 L1554.8 1330.3 L1556.8 1334.2 L1558.8 1338.1 L1560.7 1342.0 L1562.7 1345.9 L1564.7 1349.8 L1566.7 1353.8 L1568.6 1357.7 L1570.6 1361.7 L1572.6 1365.8 L1574.5 1369.9 L1576.5 1374.0 L1578.5 1378.1 L1580.4 1382.3 L1582.4 1386.6 L1584.4 1390.8 L1586.3 1395.1 L1588.3 1399.4 L1590.3 1403.7 L1592.2 1408.0 L1594.2 1412.4 L1596.2 1416.7 L1598.2 1421.1 L1600.1 1425.5 L1602.1 1429.8 L1604.1 1434.2 L1606.0 1438.6 L1608.0 1443.0 L1610.0 1447.4 L1611.9 1451.7 L1613.9 1456.0 L1615.9 1460.3 L1617.8 1464.6 L1619.8 1468.9 L1621.8 1473.2 L1623.8 1477.6 L1625.7 1481.9 L1627.7 1486.4 L1629.7 1490.8 L1631.6 1495.4 L1633.6 1500.1 L1635.6 1504.8" fill="none" stroke="#FA4B0A" stroke-width="6" stroke-dasharray="27 24"/>
<text x="473.42" y="1788.49" font-family='"Liberation Sans", sans-serif' font-size="41.41" textLength="23.08" lengthAdjust="spacingAndGlyphs" fill="#262626" >0</text>
<text x="450.39" y="1690.09" font-family='"Liberation Sans", sans-serif' font-size="41.41" textLength="46.16" lengthAdjust="spacingAndGlyphs" fill="#262626" >10</text>
<text x="450.39" y="1591.69" font-family='"Liberation Sans", sans-serif' font-size="41.41" textLength="46.16" lengthAdjust="spacingAndGlyphs" fill="#262626" >20</text>
<text x="450.39" y="1493.29" font-family='"Liberation Sans", sans-serif' font-size="41.41" textLength="46.16" lengthAdjust="spacingAndGlyphs" fill="#262626" >30</text>
<text x="450.39" y="1394.89" font-family='"Liberation Sans", sans-serif' font-size="41.41" textLength="46.16" lengthAdjust="spacingAndGlyphs" fill="#262626" >40</text>
<text x="450.39" y="1296.49" font-family='"Liberation Sans", sans-serif' font-size="41.41" textLength="46.16" lengthAdjust="spacingAndGlyphs" fill="#262626" >50</text>
<text x="450.39" y="1198.09" font-family='"Liberation Sans", sans-serif' font-size="41.41" textLength="46.16" lengthAdjust="spacingAndGlyphs" fill="#262626" >60</text>
<text x="450.39" y="1099.69" font-family='"Liberation Sans", sans-serif' font-size="41.41" textLength="46.16" lengthAdjust="spacingAndGlyphs" fill="#262626" >70</text>
<text x="450.39" y="1001.29" font-family='"Liberation Sans", sans-serif' font-size="41.41" textLength="46.16" lengthAdjust="spacingAndGlyphs" fill="#262626" >80</text>
<text x="499.08" y="1828.39" font-family='"Liberation Sans", sans-serif' font-size="41.41" textLength="23.08" lengthAdjust="spacingAndGlyphs" fill="#262626" >0</text>
<text x="672.23" y="1828.39" font-family='"Liberation Sans", sans-serif' font-size="41.41" textLength="69.24" lengthAdjust="spacingAndGlyphs" fill="#262626" >100</text>
<text x="869.66" y="1828.39" font-family='"Liberation Sans", sans-serif' font-size="41.41" textLength="69.24" lengthAdjust="spacingAndGlyphs" fill="#262626" >200</text>
<text x="1066.78" y="1828.39" font-family='"Liberation Sans", sans-serif' font-size="41.41" textLength="69.24" lengthAdjust="spacingAndGlyphs" fill="#262626" >300</text>
<text x="1264.11" y="1828.39" font-family='"Liberation Sans", sans-serif' font-size="41.41" textLength="69.24" lengthAdjust="spacingAndGlyphs" fill="#262626" >400</text>
<text x="1460.61" y="1828.39" font-family='"Liberation Sans", sans-serif' font-size="41.41" textLength="69.24" lengthAdjust="spacingAndGlyphs" fill="#262626" >500</text>
<text x="1657.31" y="1828.39" font-family='"Liberation Sans", sans-serif' font-size="41.41" textLength="69.24" lengthAdjust="spacingAndGlyphs" fill="#262626" >600</text>
<text x="1854.23" y="1828.39" font-family='"Liberation Sans", sans-serif' font-size="41.41" textLength="69.24" lengthAdjust="spacingAndGlyphs" fill="#262626" >700</text>
<text x="2051.24" y="1828.39" font-family='"Liberation Sans", sans-serif' font-size="41.41" textLength="69.24" lengthAdjust="spacingAndGlyphs" fill="#262626" >800</text>
<text x="1168.5" y="1890.4" font-size="36.6" fill="#303030" font-family='"Liberation Serif", serif' textLength="183.7" lengthAdjust="spacingAndGlyphs" stroke="#fff" stroke-width="0.7" paint-order="fill stroke">Length(<tspan font-style="italic">μm</tspan>)</text>
<g transform="translate(400 1444.5) rotate(-90)">
<text x="0" y="0" font-size="36.6" fill="#303030" font-family='"Liberation Serif", serif' textLength="181" lengthAdjust="spacingAndGlyphs" stroke="#fff" stroke-width="0.7" paint-order="fill stroke">Height(<tspan font-style="italic">μm</tspan>)</text>
</g>
<text x="1231.17" y="1995.23" font-family='"Liberation Serif", serif' font-size="68.68" textLength="77.26" lengthAdjust="spacingAndGlyphs" fill="#000"  stroke="#fff" stroke-width="0.6" paint-order="fill stroke">(c)</text>
<rect x="1490.3" y="1019.9" width="552.7" height="101" fill="#fff" stroke="#404040" stroke-width="1.6"/>
<rect x="1496.2" y="1044.8" width="64.6" height="3" fill="#0072BD"/>
<rect x="1496.2" y="1091.5" width="26.4" height="6" fill="#FA4B0A"/>
<rect x="1547" y="1091.5" width="13.8" height="6" fill="#FA4B0A"/>
<text x="1562.93" y="1061.60" font-family='"Liberation Sans", sans-serif' font-size="37.00" textLength="442.94" lengthAdjust="spacingAndGlyphs" fill="#111" >Topography after stitching</text>
<text x="1562.93" y="1110.00" font-family='"Liberation Sans", sans-serif' font-size="37.00" textLength="475.32" lengthAdjust="spacingAndGlyphs" fill="#111" >Topography before stitching</text>
</svg>
</body></html>
